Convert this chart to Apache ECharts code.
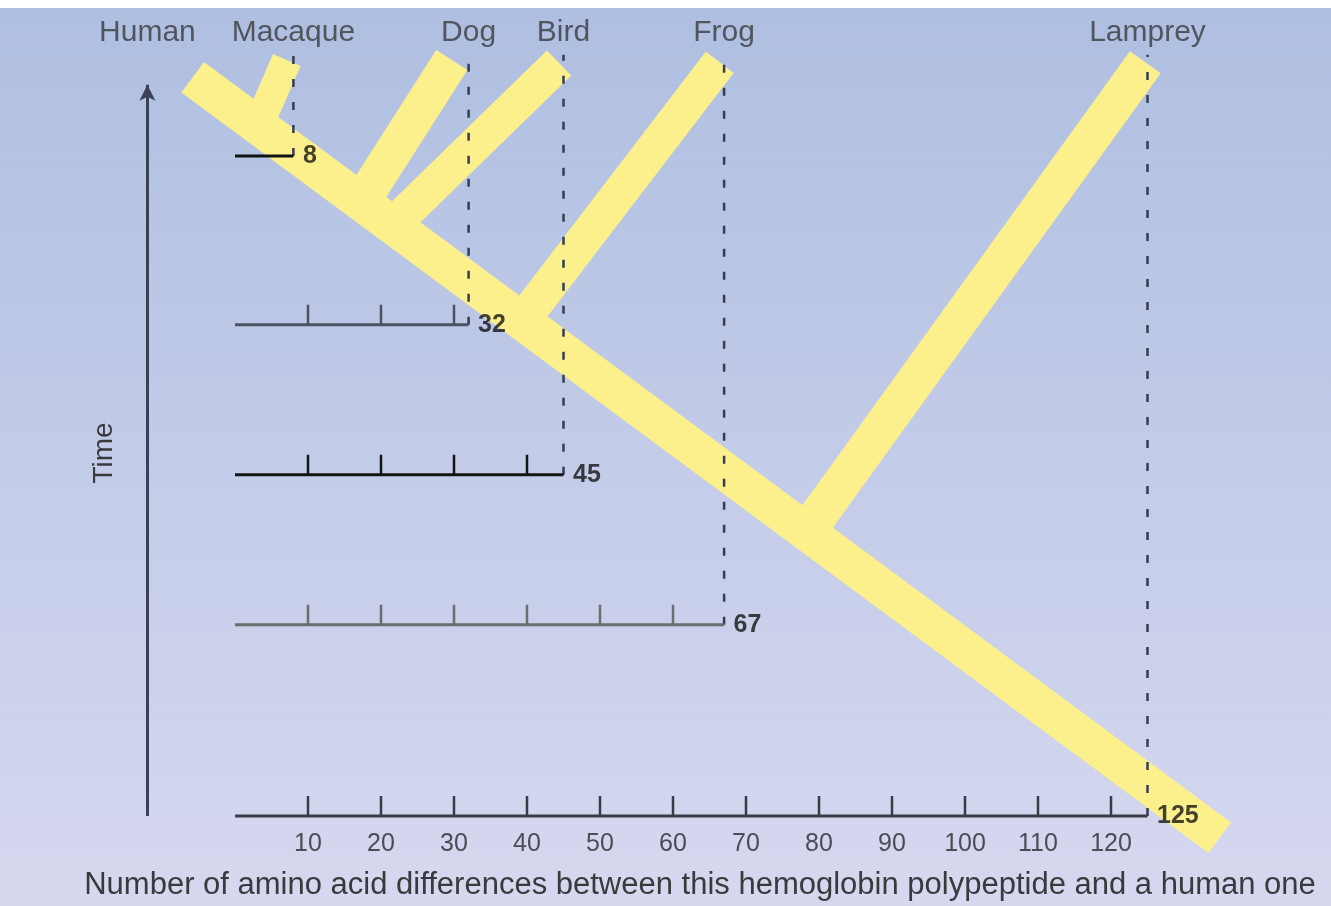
<!DOCTYPE html>
<html>
<head>
<meta charset="utf-8">
<script src="https://cdn.jsdelivr.net/npm/echarts@6/dist/echarts.min.js"></script>
<style>
html,body{margin:0;padding:0;background:#fff;}
#chart{width:1331px;height:906px;}
</style>
</head>
<body>
<div id="chart"></div>
<script>
// ---- data ----
const species = ['Human', 'Macaque', 'Dog', 'Bird', 'Frog', 'Lamprey'];
const differences = [0, 8, 32, 45, 67, 125];          // amino acid differences vs human
const scaleLevels = [null, 88, 65.5, 45.5, 25.5, 0];   // time level of each comparison scale
const tickLabels = [10, 20, 30, 40, 50, 60, 70, 80, 90, 100, 110, 120];
// tree (x: differences, y: time units)
const trunk = [[-5.8, 98.5], [134.9, -2.9]];           // Human tip -> root end
const branchBase = [null, [3.2, 92.1], [17.3, 81.9], [21.6, 78.8], [39.3, 66.0], [78.3, 37.9]];
const branchTip  = [null, [7.1, 100.8], [29.7, 100.8], [44.4, 100.4], [66.4, 100.5], [124.7, 100.5]];
const xTitle = 'Number of amino acid differences between this hemoglobin polypeptide and a human one';

// ---- layout / style constants ----
const FONT = 'Liberation Sans';
const timeAxisX = -12;
const dashTop = 101.5;
const labelY = 104.4;
const yellow = '#fcf08c';
const branchWidths = [null, 30, 37, 35, 35, 38];
const scaleColors = [null, '#111111', '#4b5263', '#151515', '#6a6f6c', '#383c44'];

const series = [];

// trunk
series.push({type: 'line', data: trunk, symbol: 'none', silent: true, z: 1,
  lineStyle: {color: yellow, width: 38, cap: 'butt'},
  markLine: {
    silent: true, symbol: ['none', 'arrow'], symbolSize: [12, 16],
    label: {show: false},
    lineStyle: {color: '#3a4056', width: 3, type: 'solid'},
    data: [[{coord: [timeAxisX, 0]}, {coord: [timeAxisX, 97.5]}]]
  }
});
// branches
for (let i = 1; i < species.length; i++) {
  series.push({type: 'line', data: [branchBase[i], branchTip[i]], symbol: 'none', silent: true, z: 1,
    lineStyle: {color: yellow, width: branchWidths[i], cap: 'butt'}});
}
// dashed lines and scale lines
for (let i = 1; i < species.length; i++) {
  series.push({type: 'line', data: [[differences[i], scaleLevels[i]], [differences[i], dashTop]],
    symbol: 'none', silent: true, z: 3,
    lineStyle: {color: '#353c55', width: 2.5, type: [8, 15]}});
  series.push({type: 'line', data: [[0, scaleLevels[i]], [differences[i], scaleLevels[i]]],
    symbol: 'none', silent: true, z: 3,
    lineStyle: {color: scaleColors[i], width: 3}});
}
// ticks on each scale
const tickData = [];
for (let i = 1; i < species.length; i++) {
  tickLabels.forEach(t => { if (t < differences[i]) tickData.push([t, scaleLevels[i], i]); });
}
series.push({type: 'custom', data: tickData, silent: true, z: 4,
  renderItem: function (params, api) {
    const p = api.coord([api.value(0), api.value(1)]);
    return {type: 'line', shape: {x1: p[0], y1: p[1], x2: p[0], y2: p[1] - 20},
      style: {stroke: scaleColors[api.value(2)], lineWidth: 2.5}};
  }
});
// value labels at scale ends
series.push({type: 'scatter', silent: true, z: 5, symbolSize: 1, itemStyle: {color: 'rgba(0,0,0,0)'},
  data: differences.slice(1).map((d, k) => [d, scaleLevels[k + 1]]),
  label: {show: true, position: 'right', distance: 9, formatter: p => String(p.value[0]),
    fontFamily: FONT, fontSize: 25, fontWeight: 'bold', color: '#141414'}
});
// species labels
series.push({type: 'scatter', silent: true, z: 5, symbolSize: 1, itemStyle: {color: 'rgba(0,0,0,0)'},
  data: species.map((s, i) => [i === 0 ? timeAxisX : differences[i], labelY]),
  label: {show: true, position: 'inside', formatter: p => species[p.dataIndex],
    fontFamily: FONT, fontSize: 30, color: '#3a3a3c'}
});

const option = {
  animation: false,
  backgroundColor: '#ffffff',
  graphic: [{type: 'rect', z: -100, silent: true,
    shape: {x: 0, y: 8, width: 1331, height: 898},
    style: {fill: new echarts.graphic.LinearGradient(0, 0, 0, 1, [
      {offset: 0, color: '#afbfe1'}, {offset: 1, color: '#d6d8ef'}])}
  }],
  grid: {left: 16, right: 1, top: 0, bottom: 0, containLabel: false, outerBoundsMode: 'none'},
  xAxis: {type: 'value', min: -30, max: 150, interval: 10, offset: -90,
    axisLine: {show: false, onZero: false}, axisTick: {show: false}, splitLine: {show: false},
    axisLabel: {formatter: v => tickLabels.indexOf(v) >= 0 ? String(v) : '', margin: 16,
      fontFamily: FONT, fontSize: 25, color: '#4a4d55'},
    name: xTitle, nameLocation: 'middle', nameGap: 54,
    nameTextStyle: {fontFamily: FONT, fontSize: 31, color: '#3a3a3c', padding: [0, 0, 0, 54]}
  },
  yAxis: {type: 'value', min: -12, max: 108.8, offset: -132,
    axisLine: {show: false, onZero: false}, axisTick: {show: false}, axisLabel: {show: false},
    splitLine: {show: false},
    name: 'Time', nameLocation: 'middle', nameGap: 30, nameRotate: 90,
    nameTextStyle: {fontFamily: FONT, fontSize: 28, color: '#3a3a3c'}
  },
  series: series
};
const chart = echarts.init(document.getElementById('chart'), null, {renderer: 'canvas'});
chart.setOption(option);
</script>
</body>
</html>
